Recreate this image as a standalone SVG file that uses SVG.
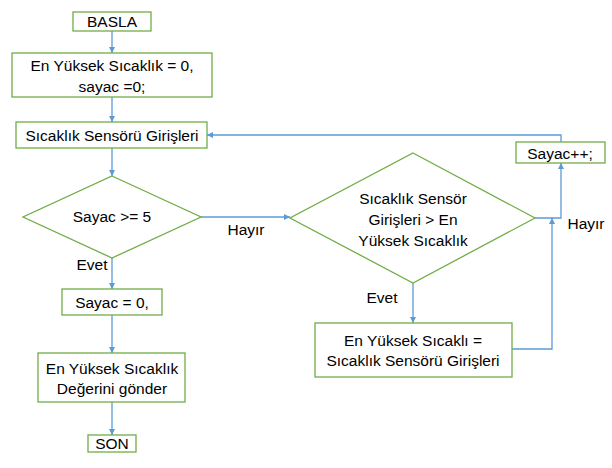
<svg xmlns="http://www.w3.org/2000/svg" width="612" height="468" viewBox="0 0 612 468">
<style>
.n{fill:#fff;stroke:#70ad47;stroke-width:1.3}
.t{font-family:"Liberation Sans",Arial,sans-serif;font-size:15.5px;fill:#000;text-anchor:middle;dominant-baseline:central}
.c{fill:none;stroke:#5b9bd5;stroke-width:1.3}
</style>
<defs>
<marker id="a" viewBox="0 0 10 10" refX="10" refY="5" markerWidth="6" markerHeight="6" orient="auto" markerUnits="userSpaceOnUse"><path d="M0,0L10,5L0,10z" fill="#5b9bd5"/></marker>
</defs>
<rect width="612" height="468" fill="#fff"/>
<g id="connectors">
<path class="c" d="M112,31V53" marker-end="url(#a)"/>
<path class="c" d="M112,97V122" marker-end="url(#a)"/>
<path class="c" d="M112,148V176" marker-end="url(#a)"/>
<path class="c" d="M201,217H290" marker-end="url(#a)"/>
<path class="c" d="M112,258V289" marker-end="url(#a)"/>
<path class="c" d="M112,315V353" marker-end="url(#a)"/>
<path class="c" d="M112,402V435" marker-end="url(#a)"/>
<path class="c" d="M413,283V323" marker-end="url(#a)"/>
<path class="c" d="M535,218H561V163" marker-end="url(#a)"/>
<path class="c" d="M512,349H552V218" marker-end="url(#a)"/>
<path class="c" d="M561,142V135H207" marker-end="url(#a)"/>
<text class="t" x="246" y="229">Hayır</text>
<text class="t" x="92" y="264">Evet</text>
<text class="t" x="586" y="223">Hayır</text>
<text class="t" x="382" y="297">Evet</text>
</g>
<g id="basla"><rect class="n" x="73" y="12" width="78" height="19"/><text class="t" x="112" y="21">BASLA</text></g>
<g id="init"><rect class="n" x="12" y="53" width="200" height="44"/><text class="t" x="112" y="65">En Yüksek Sıcaklık = 0,</text><text class="t" x="112" y="86">sayac =0;</text></g>
<g id="input"><rect class="n" x="16" y="122" width="191" height="26"/><text class="t" x="112" y="135">Sıcaklık Sensörü Girişleri</text></g>
<g id="check1"><path class="n" d="M112,176L201,217L112,258L23,217z"/><text class="t" x="112" y="216">Sayac &gt;= 5</text></g>
<g id="reset"><rect class="n" x="62" y="289" width="100" height="26"/><text class="t" x="112" y="302">Sayac = 0,</text></g>
<g id="send"><rect class="n" x="38" y="353" width="147" height="49"/><text class="t" x="112" y="368">En Yüksek Sıcaklık</text><text class="t" x="112" y="388">Değerini gönder</text></g>
<g id="son"><rect class="n" x="88" y="435" width="48" height="17"/><text class="t" x="112" y="443">SON</text></g>
<g id="check2"><path class="n" d="M413,153L535,218L413,283L290,218z"/><text class="t" x="413" y="198">Sıcaklık Sensör</text><text class="t" x="413" y="219">Girişleri &gt; En</text><text class="t" x="413" y="240">Yüksek Sıcaklık</text></g>
<g id="inc"><rect class="n" x="516" y="142" width="89" height="21"/><text class="t" x="560" y="153">Sayac++;</text></g>
<g id="update"><rect class="n" x="315" y="323" width="197" height="54"/><text class="t" x="413" y="340">En Yüksek Sıcaklı =</text><text class="t" x="413" y="360">Sıcaklık Sensörü Girişleri</text></g>
</svg>
